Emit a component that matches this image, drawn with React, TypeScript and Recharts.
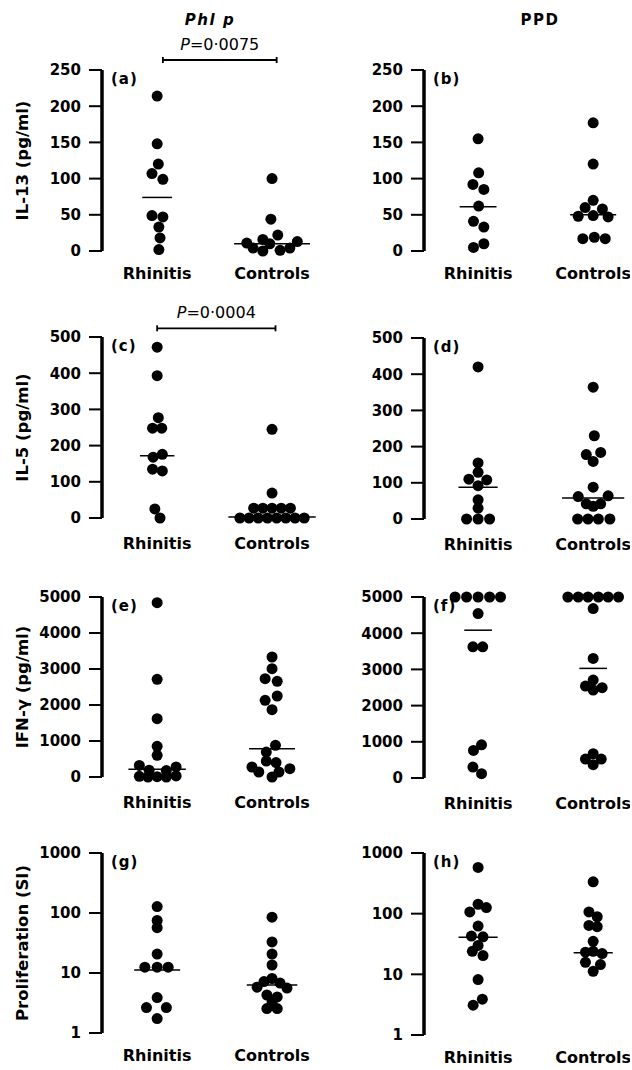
import { ScatterChart, Scatter, XAxis, YAxis, ReferenceLine } from 'recharts'

const groups = ['Rhinitis', 'Controls']

// jitter = sideways offset of each dot, in category widths

// (a) IL-13, Phl p
const il13PhlRhinitis = [214, 148, 120, 107, 99, 49, 47, 33, 18, 2]
const il13PhlRhinitisJit = [0, 0, 0.01, -0.045, 0.05, -0.045, 0.05, 0.015, 0.025, 0.015]
const il13PhlControls = [100, 44, 22, 16, 13, 11, 10, 4, 4, 1, 0]
const il13PhlControlsJit = [0, -0.01, 0.05, -0.08, 0.22, -0.22, -0.02, -0.165, 0.155, 0.07, -0.08]
const il13PhlMedians = [74, 10]

// (b) IL-13, PPD
const il13PpdRhinitis = [155, 108, 92, 85, 62, 41, 33, 10, 5]
const il13PpdRhinitisJit = [0, 0.005, -0.045, 0.05, 0.005, -0.04, 0.05, 0.05, -0.04]
const il13PpdControls = [177, 120, 70, 60, 58, 48, 49, 47, 17, 19, 17]
const il13PpdControlsJit = [0, 0, 0, -0.07, 0.08, -0.13, 0, 0.13, -0.09, 0.01, 0.105]
const il13PpdMedians = [61, 50]

// (c) IL-5, Phl p
const il5PhlRhinitis = [472, 393, 277, 248, 248, 176, 168, 135, 130, 25, 0]
const il5PhlRhinitisJit = [0, 0, 0.01, -0.04, 0.04, 0.045, -0.035, -0.04, 0.045, -0.02, 0.025]
const il5PhlControls = [245, 69, 27, 27, 27, 27, 27, 0, 0, 0, 0, 0, 0, 0, 0]
const il5PhlControlsJit = [0, 0, -0.16, -0.08, 0, 0.08, 0.16, -0.28, -0.2, -0.12, -0.04, 0.04, 0.12, 0.2, 0.28]
const il5PhlMedians = [172, 3]

// (d) IL-5, PPD
const il5PpdRhinitis = [420, 155, 129, 110, 108, 92, 53, 30, 0, 0, 0]
const il5PpdRhinitisJit = [0, 0, 0, -0.08, 0.075, 0, 0, 0, -0.1, 0, 0.1]
const il5PpdControls = [364, 230, 184, 178, 159, 88, 64, 62, 42, 42, 35, 0, 0, 0, 0]
const il5PpdControlsJit = [0, 0.01, 0.065, -0.06, 0, 0, 0.13, -0.13, -0.06, 0.065, 0, -0.135, -0.045, 0.045, 0.145]
const il5PpdMedians = [88, 58]

// (e) IFN-γ, Phl p
const ifnPhlRhinitis = [4843, 2713, 1620, 853, 603, 320, 280, 190, 180, 20, 0, 10, 0, 30]
const ifnPhlRhinitisJit = [0, 0, 0, 0, 0, -0.155, 0.165, -0.07, 0.08, -0.155, -0.08, 0, 0.08, 0.165]
const ifnPhlControls = [3333, 3009, 2731, 2657, 2250, 2130, 1870, 880, 694, 444, 400, 278, 232, 139, 139, 0]
const ifnPhlControlsJit = [0, 0, -0.06, 0.045, 0.045, -0.06, 0, 0.03, -0.05, -0.05, 0.035, -0.175, 0.155, -0.115, 0.06, 0]
const ifnPhlMedians = [213, 787]

// (f) IFN-γ, PPD
const ifnPpdRhinitis = [5000, 5000, 5000, 5000, 5000, 4541, 3624, 3624, 917, 761, 303, 119]
const ifnPpdRhinitisJit = [-0.2, -0.1, 0, 0.1, 0.195, 0, -0.045, 0.04, 0.03, -0.04, -0.045, 0.03]
const ifnPpdControls = [5000, 5000, 5000, 5000, 5000, 5000, 4679, 3303, 2706, 2541, 2495, 2431, 670, 523, 523, 367]
const ifnPpdControlsJit = [-0.22, -0.13, -0.045, 0.045, 0.13, 0.22, 0, 0, 0, -0.067, 0.078, 0, 0, -0.067, 0.07, 0]
const ifnPpdMedians = [4083, 3028]

// (g) proliferation, Phl p
const proPhlRhinitis = [128, 75, 57, 20.7, 12.5, 12.5, 12.5, 3.9, 2.65, 2.65, 1.74]
const proPhlRhinitisJit = [0, 0, 0, 0, -0.107, 0, 0.096, 0, -0.093, 0.08, 0]
const proPhlControls = [85, 33, 20.7, 13.6, 8.1, 7.2, 6.8, 5.8, 5.6, 4.3, 4.0, 3.3, 2.55, 2.55]
const proPhlControlsJit = [0, 0, 0, 0, 0, -0.07, 0.07, -0.13, 0.13, -0.045, 0.045, 0, -0.045, 0.045]
const proPhlMedians = [11.2, 6.3]

// (h) proliferation, PPD
const proPpdRhinitis = [578, 143, 126, 107, 62.5, 42.7, 41.6, 29.9, 24, 20.4, 8.2, 3.9, 3.1]
const proPpdRhinitisJit = [0, 0, 0.072, -0.072, 0, -0.058, 0.043, 0, -0.05, 0.043, 0, 0.037, -0.043]
const proPpdControls = [335, 107, 89, 64, 61, 35, 24, 23.2, 22, 15.8, 14.5, 11.2]
const proPpdControlsJit = [0, -0.037, 0.035, -0.037, 0.035, 0, 0, -0.067, 0.078, -0.067, 0.063, 0]
const proPpdMedians = [41, 22.6]

const il13Ticks = [0, 50, 100, 150, 200, 250]
const il5Ticks = [0, 100, 200, 300, 400, 500]
const ifnTicks = [0, 1000, 2000, 3000, 4000, 5000]
const proTicks = [1, 10, 100, 1000]

const font = 'DejaVu Sans'

const panels = [
  { id: '(a)', col: 0, top: 70, bottom: 251, domain: [0, 250], ticks: il13Ticks, log: false, title: 'IL-13 (pg/ml)',
    r: il13PhlRhinitis, rj: il13PhlRhinitisJit, c: il13PhlControls, cj: il13PhlControlsJit, med: il13PhlMedians,
    half: [0.13, 0.33], gap: 11, bracket: { x1: 0.05, x2: 1.04, y: 263.8, cap: 4.2, text: '=0·0075' } },
  { id: '(b)', col: 1, top: 70, bottom: 251, domain: [0, 250], ticks: il13Ticks, log: false,
    r: il13PpdRhinitis, rj: il13PpdRhinitisJit, c: il13PpdControls, cj: il13PpdControlsJit, med: il13PpdMedians,
    half: [0.16, 0.2], gap: 11 },
  { id: '(c)', col: 0, top: 337, bottom: 518, domain: [0, 500], ticks: il5Ticks, log: false, title: 'IL-5 (pg/ml)',
    r: il5PhlRhinitis, rj: il5PhlRhinitisJit, c: il5PhlControls, cj: il5PhlControlsJit, med: il5PhlMedians,
    half: [0.15, 0.38], gap: 14, bracket: { x1: 0.0, x2: 1.03, y: 524, cap: 8.3, text: '=0·0004' } },
  { id: '(d)', col: 1, top: 338, bottom: 519, domain: [0, 500], ticks: il5Ticks, log: false,
    r: il5PpdRhinitis, rj: il5PpdRhinitisJit, c: il5PpdControls, cj: il5PpdControlsJit, med: il5PpdMedians,
    half: [0.17, 0.27], gap: 14 },
  { id: '(e)', col: 0, top: 597, bottom: 777, domain: [0, 5000], ticks: ifnTicks, log: false, title: 'IFN-γ (pg/ml)',
    r: ifnPhlRhinitis, rj: ifnPhlRhinitisJit, c: ifnPhlControls, cj: ifnPhlControlsJit, med: ifnPhlMedians,
    half: [0.25, 0.2], gap: 14 },
  { id: '(f)', col: 1, top: 597, bottom: 778, domain: [0, 5000], ticks: ifnTicks, log: false,
    r: ifnPpdRhinitis, rj: ifnPpdRhinitisJit, c: ifnPpdControls, cj: ifnPpdControlsJit, med: ifnPpdMedians,
    half: [0.12, 0.12], gap: 14 },
  { id: '(g)', col: 0, top: 853, bottom: 1033, domain: [1, 1000], ticks: proTicks, log: true, title: 'Proliferation (SI)',
    r: proPhlRhinitis, rj: proPhlRhinitisJit, c: proPhlControls, cj: proPhlControlsJit, med: proPhlMedians,
    half: [0.2, 0.22], gap: 11 },
  { id: '(h)', col: 1, top: 853, bottom: 1035, domain: [1, 1000], ticks: proTicks, log: true,
    r: proPpdRhinitis, rj: proPpdRhinitisJit, c: proPpdControls, cj: proPpdControlsJit, med: proPpdMedians,
    half: [0.17, 0.17], gap: 11 },
]

const Dot = (props: any) => <circle cx={props.cx} cy={props.cy} r={5.5} fill="#000" />

const pLabel = (text: string) => (props: any) => {
  const vb = props.viewBox
  return (
    <text x={vb.x + vb.width / 2} y={vb.y - 10} textAnchor="middle" fontSize={16} fontFamily={font} fill="#000">
      <tspan fontStyle="italic">P</tspan>
      {text}
    </text>
  )
}

// rotated axis title, centred on the axis height
const titleLabel = (text: string) => (props: any) => {
  const vb = props.viewBox
  const x = vb.x + 22
  const y = vb.y + vb.height / 2
  return (
    <text
      x={x}
      y={y}
      dy="0.36em"
      transform={`rotate(-90, ${x}, ${y})`}
      textAnchor="middle"
      fontSize={16.5}
      fontWeight={700}
      fontFamily={font}
      fill="#000"
    >
      {text}
    </text>
  )
}

function Panel({ p }: { p: any }) {
  const mTop = 40
  const xH = 40
  const plotH = p.bottom - p.top
  const left = p.col === 0 ? 0 : 320
  const axisW = p.col === 0 ? 102 : 104
  const width = p.col === 0 ? 318 : 310
  const xDomain = p.col === 0 ? [-0.48, 1.4] : [-0.47, 1.32]
  const rData = p.r.map((v: number, i: number) => ({ x: p.rj[i], y: v }))
  const cData = p.c.map((v: number, i: number) => ({ x: 1 + p.cj[i], y: v }))

  return (
    <div style={{ position: 'absolute', left, top: p.top - mTop }}>
      <ScatterChart width={width} height={mTop + plotH + xH} margin={{ top: mTop, right: 0, bottom: 0, left: 0 }}>
        <XAxis
          type="number"
          dataKey="x"
          domain={xDomain}
          ticks={[0, 1]}
          interval={0}
          tickFormatter={(v) => groups[v]}
          axisLine={false}
          tickLine={false}
          tickMargin={p.gap}
          height={xH}
          tick={{ fill: '#000', fontSize: 16, fontWeight: 700, fontFamily: font }}
        />
        <YAxis
          type="number"
          dataKey="y"
          domain={p.domain}
          ticks={p.ticks}
          interval={0}
          scale={p.log ? 'log' : 'linear'}
          width={axisW}
          axisLine={{ stroke: '#000', strokeWidth: 3.5 }}
          tickLine={{ stroke: '#000', strokeWidth: 2 }}
          tickSize={13}
          tickMargin={8}
          tick={{ fill: '#000', fontSize: 15, fontWeight: 700, fontFamily: font }}
          label={p.title ? titleLabel(p.title) : undefined}
        />
        {p.med.map((m: number, g: number) => (
          <ReferenceLine
            key={'m' + g}
            segment={[{ x: g - p.half[g], y: m }, { x: g + p.half[g], y: m }]}
            stroke="#000"
            strokeWidth={1.5}
            ifOverflow="visible"
          />
        ))}
        {p.bracket && (
          <ReferenceLine
            segment={[{ x: p.bracket.x1, y: p.bracket.y }, { x: p.bracket.x2, y: p.bracket.y }]}
            stroke="#000"
            strokeWidth={1.8}
            ifOverflow="visible"
            label={pLabel(p.bracket.text)}
          />
        )}
        {p.bracket && [p.bracket.x1, p.bracket.x2].map((bx: number) => (
          <ReferenceLine
            key={'cap' + bx}
            segment={[{ x: bx, y: p.bracket.y - p.bracket.cap }, { x: bx, y: p.bracket.y + p.bracket.cap }]}
            stroke="#000"
            strokeWidth={1.8}
            ifOverflow="visible"
          />
        ))}
        <Scatter name="Rhinitis" data={rData} shape={Dot} isAnimationActive={false} />
        <Scatter name="Controls" data={cData} shape={Dot} isAnimationActive={false} />
      </ScatterChart>
      <div
        style={{
          position: 'absolute',
          left: axisW + 9,
          top: mTop + 2,
          fontSize: 15,
          fontWeight: 700,
          letterSpacing: 1,
          lineHeight: 1,
          fontFamily: font,
          color: '#000',
        }}
      >
        {p.id}
      </div>
    </div>
  )
}

export default function App() {
  const head = { position: 'absolute' as const, top: 13, width: 120, textAlign: 'center' as const, fontSize: 15, lineHeight: 1,
    fontWeight: 700, letterSpacing: 1.5, fontFamily: font, color: '#000' }
  return (
    <div style={{ position: 'absolute', left: 0, top: 0, width: 632, height: 1070, background: '#fff', overflow: 'hidden' }}>
      <div style={{ ...head, left: 150, fontStyle: 'italic' }}>Phl p</div>
      <div style={{ ...head, left: 480 }}>PPD</div>
      {panels.map((p) => (
        <Panel key={p.id} p={p} />
      ))}
    </div>
  )
}
